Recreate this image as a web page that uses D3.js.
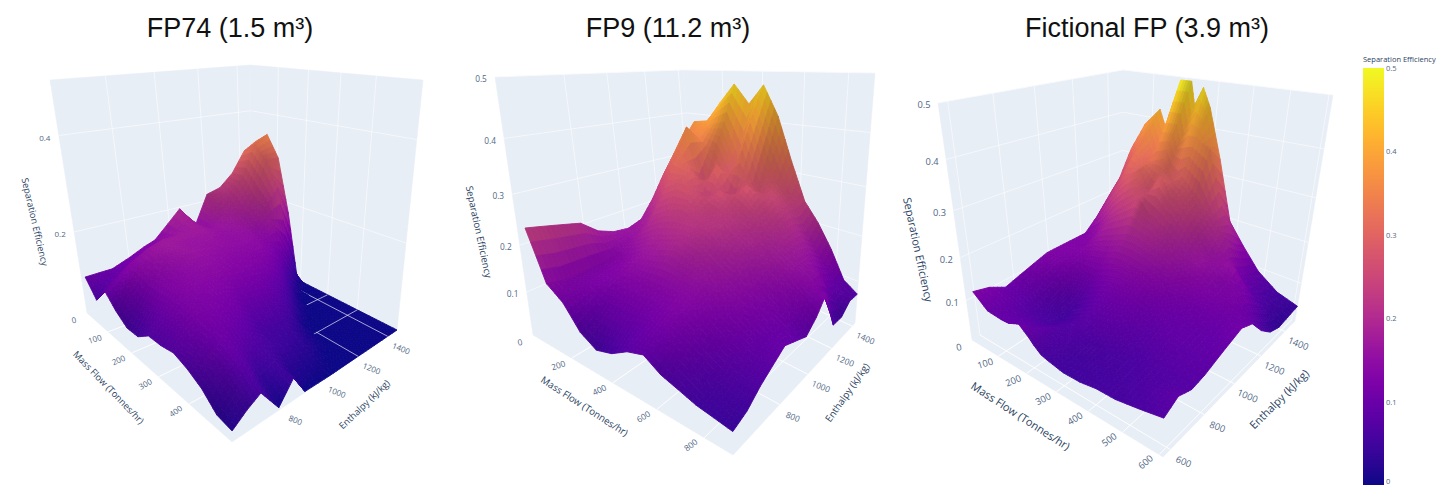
<!DOCTYPE html>
<html>
<head>
<meta charset="utf-8">
<script src="https://cdn.jsdelivr.net/npm/d3@7"></script>
<style>
  html, body { margin: 0; padding: 0; background: #fff; overflow: hidden; }
  text { font-family: "Open Sans", sans-serif; }
  .title { font-family: "Liberation Sans", sans-serif; font-size: 27px; fill: #111; text-anchor: middle; }
  .tick-label { fill: #506784; text-anchor: middle; dominant-baseline: middle; }
  .axis-title { fill: #2a3f5f; text-anchor: middle; dominant-baseline: middle; }
</style>
</head>
<body>
<div id="chart"></div>
<script>
// values, rows = mass flow, columns = enthalpy
const fp74Mass = [20, 62, 104, 146, 188, 230, 270, 312, 354, 396, 438, 480, 520];
const fp74Enthalpy = [600, 654, 708, 785, 850, 905, 1035, 1108, 1180, 1252, 1325, 1398, 1470];
const fp74Efficiency = [
  [.10, .10, .10, .115, .13, .14, .20, .15, .22, .23, .26, .31, .33],
  [.06, .08, .10, .125, .14, .15, .18, .15, .19, .21, .26, .33, .35],
  [.10, .12, .14, .16, .17, .17, .17, .16, .17, .18, .22, .30, .30],
  [.07, .11, .14, .16, .17, .16, .16, .15, .16, .16, .20, .24, .17],
  [.05, .09, .13, .15, .16, .16, .15, .15, .15, .14, .15, .09, 0],
  [.05, .09, .13, .14, .15, .15, .14, .14, .14, .12, .06, 0, 0],
  [.07, .10, .13, .14, .14, .14, .13, .13, .11, .06, 0, 0, 0],
  [.07, .10, .125, .13, .13, .12, .11, .09, .06, .01, 0, 0, 0],
  [.075, .10, .12, .12, .11, .09, .08, .06, .01, 0, 0, 0, 0],
  [.065, .09, .11, .10, .08, .06, .05, .02, 0, 0, 0, 0, 0],
  [.05, .08, .10, .07, .06, .05, .03, .01, 0, 0, 0, 0, 0],
  [.025, .06, .08, .03, .05, .02, .01, 0, 0, 0, 0, 0, 0],
  [.02, .04, .055, .005, .045, .002, 0, 0, 0, 0, 0, 0, 0]
];

const fp9Mass = [40, 113, 186, 259, 332, 405, 478, 551, 624, 697, 770, 843, 915];
const fp9Enthalpy = [530, 605, 680, 755, 830, 905, 980, 1055, 1130, 1205, 1280, 1355, 1430];
const fp9Efficiency = [
  [.24, .23, .22, .21, .18, .165, .16, .17, .21, .26, .29, .34, .38],
  [.14, .13, .13, .13, .135, .15, .17, .20, .26, .32, .34, .36, .385],
  [.115, .12, .125, .13, .14, .17, .21, .26, .32, .38, .35, .38, .43],
  [.07, .09, .12, .14, .16, .19, .23, .28, .30, .25, .33, .39, .47],
  [.05, .09, .12, .14, .17, .20, .24, .27, .24, .31, .27, .31, .43],
  [.06, .09, .12, .14, .18, .21, .23, .24, .27, .24, .34, .41, .47],
  [.08, .10, .12, .14, .17, .20, .22, .23, .25, .28, .26, .33, .41],
  [.09, .11, .13, .14, .16, .18, .20, .21, .23, .25, .26, .27, .32],
  [.07, .10, .115, .13, .145, .16, .175, .19, .20, .22, .23, .23, .24],
  [.06, .08, .095, .115, .13, .14, .15, .165, .18, .19, .19, .17, .20],
  [.05, .06, .08, .10, .11, .12, .13, .145, .16, .16, .15, .13, .15],
  [.045, .055, .07, .085, .095, .105, .11, .125, .14, .145, .10, .09, .09],
  [.04, .05, .07, .085, .10, .09, .08, .10, .13, .05, .05, .07, .07]
];

const fictionalMass = [30, 77, 124, 150, 185, 218, 232, 255, 280, 325, 375, 425, 480, 545, 610];
const fictionalEnthalpy = [560, 638, 715, 792, 870, 948, 1025, 1102, 1180, 1258, 1335, 1412, 1490];
const fictionalEfficiency = [
  [.13, .12, .10, .11, .12, .13, .13, .13, .13, .16, .20, .24, .31],
  [.10, .10, .09, .095, .11, .125, .13, .13, .15, .22, .26, .30, .38],
  [.095, .085, .07, .07, .085, .11, .13, .16, .20, .27, .33, .36, .42],
  [.095, .083, .065, .06, .075, .105, .135, .17, .22, .29, .31, .31, .37],
  [.105, .08, .06, .05, .065, .10, .14, .18, .24, .31, .32, .40, .49],
  [.085, .085, .07, .065, .08, .11, .15, .19, .26, .27, .33, .40, .49],
  [.075, .07, .07, .07, .085, .115, .15, .19, .25, .28, .31, .36, .44],
  [.062, .065, .07, .08, .095, .12, .15, .19, .23, .30, .28, .38, .48],
  [.057, .06, .068, .08, .097, .12, .148, .185, .225, .27, .30, .38, .44],
  [.05, .052, .062, .08, .097, .118, .142, .175, .20, .245, .27, .36, .33],
  [.05, .055, .06, .075, .09, .105, .13, .15, .17, .20, .225, .24, .19],
  [.055, .055, .06, .07, .085, .10, .115, .135, .16, .155, .19, .16, .14],
  [.055, .06, .065, .075, .09, .095, .105, .125, .13, .16, .11, .10, .09],
  [.062, .07, .07, .08, .085, .09, .10, .115, .125, .10, .07, .06, .055],
  [.07, .085, .075, .08, .09, .10, .11, .10, .065, .04, .03, .035, .04]
];

const panelTitles = ["FP74 (1.5 m³)", "FP9 (11.2 m³)", "Fictional FP (3.9 m³)"];
const massTitle = "Mass Flow (Tonnes/hr)";
const enthalpyTitle = "Enthalpy (kJ/kg)";
const efficiencyTitle = "Separation Efficiency";
const colorbarTicks = [0, 0.1, 0.2, 0.3, 0.4, 0.5];

const width = 1450, height = 485;
const color = d3.scaleSequential(d3.interpolatePlasma).domain([0, 0.5]);
const SUB = 4; // each cell is painted as SUB x SUB pieces so the colour runs smoothly

// scene boxes: where the corners of the plot cube land on the page
const scenes = [
  {
    title: panelTitles[0], titleX: 230,
    mass: fp74Mass, enthalpy: fp74Enthalpy, z: fp74Efficiency,
    massRange: [0, 520], enthalpyRange: [600, 1470],
    massTicks: [100, 200, 300, 400], enthalpyTicks: [800, 1000, 1200, 1400], zTicks: [0, 0.2, 0.4],
    floor: [[87, 313], [232, 442], [397, 330], [253, 257]],
    top: [[50, 80], [235, 100], [423, 80], [250, 65]],
    massTitleAt: [108, 388, 46], enthalpyTitleAt: [365, 405, -44], zTitleAt: [34, 222, 77],
    tickSize: 8, titleSize: 9.3
  },
  {
    title: panelTitles[1], titleX: 668,
    mass: fp9Mass, enthalpy: fp9Enthalpy, z: fp9Efficiency,
    massRange: [0, 915], enthalpyRange: [530, 1430],
    massTicks: [200, 400, 600, 800], enthalpyTicks: [800, 1000, 1200, 1400], zTicks: [0, 0.1, 0.2, 0.3, 0.4, 0.5],
    floor: [[533, 335], [733, 455], [855, 323], [697, 250]],
    top: [[495, 77], [730, 95], [875, 73], [683, 70]],
    massTitleAt: [584, 407, 33], enthalpyTitleAt: [848, 393, -55], zTitleAt: [478, 232, 78],
    tickSize: 8.3, titleSize: 9.7
  },
  {
    title: panelTitles[2], titleX: 1147,
    mass: fictionalMass, enthalpy: fictionalEnthalpy, z: fictionalEfficiency,
    massRange: [0, 610], enthalpyRange: [560, 1490],
    massTicks: [100, 200, 300, 400, 500, 600], enthalpyTicks: [600, 800, 1000, 1200, 1400], zTicks: [0, 0.1, 0.2, 0.3, 0.4, 0.5],
    floor: [[972, 340], [1163, 457], [1295, 321], [1123, 247]],
    top: [[938, 103], [1170, 120], [1333, 95], [1123, 70]],
    massTitleAt: [1020, 417, 33], enthalpyTitleAt: [1280, 400, -45], zTitleAt: [917, 250, 78],
    tickSize: 9.3, titleSize: 11
  }
];

// maps the unit square onto a four sided shape
function squareToQuad(q) {
  const [[x0, y0], [x1, y1], [x2, y2], [x3, y3]] = q;
  const sx = x0 - x1 + x2 - x3, sy = y0 - y1 + y2 - y3;
  const dx1 = x1 - x2, dx2 = x3 - x2, dy1 = y1 - y2, dy2 = y3 - y2;
  const det = dx1 * dy2 - dx2 * dy1;
  const g = (sx * dy2 - dx2 * sy) / det, h = (dx1 * sy - sx * dy1) / det;
  const a = x1 - x0 + g * x1, b = x3 - x0 + h * x3;
  const d = y1 - y0 + g * y1, e = y3 - y0 + h * y3;
  return (u, v) => {
    const s = g * u + h * v + 1;
    return [(a * u + b * v + x0) / s, (d * u + e * v + y0) / s];
  };
}

const svg = d3.select("#chart").append("svg")
  .attr("width", width).attr("height", height)
  .attr("viewBox", `0 0 ${width} ${height}`);

function drawScene(scene) {
  const g = svg.append("g");
  const mass = scene.mass, enthalpy = scene.enthalpy, zz = scene.z;
  const u = d3.scaleLinear().domain(scene.massRange).range([0, 1]);
  const v = d3.scaleLinear().domain(scene.enthalpyRange).range([0, 1]);
  const w = d3.scaleLinear().domain([0, 0.5]).range([0, 1]);
  const floorMap = squareToQuad(scene.floor);
  const lift = scene.top.map((p, i) => [p[0] - scene.floor[i][0], p[1] - scene.floor[i][1]]);
  const massEnds = scene.massRange, enthEnds = scene.enthalpyRange;

  const project = (m, e, z) => {
    const s = u(m), r = v(e), a = floorMap(s, r);
    const t = w(z), f = t / (t + 1.25 * (1 - t));
    const lx = (lift[0][0] * (1 - s) + lift[1][0] * s) * (1 - r) + (lift[3][0] * (1 - s) + lift[2][0] * s) * r;
    const ly = (lift[0][1] * (1 - s) + lift[1][1] * s) * (1 - r) + (lift[3][1] * (1 - s) + lift[2][1] * s) * r;
    return [a[0] + lx * f, a[1] + ly * f];
  };
  const line = d3.line();

  // walls and floor
  const zTop = 0.5;
  const faces = [
    [[massEnds[0], enthEnds[0], 0], [massEnds[1], enthEnds[0], 0], [massEnds[1], enthEnds[1], 0], [massEnds[0], enthEnds[1], 0]],
    [[massEnds[0], enthEnds[0], 0], [massEnds[0], enthEnds[1], 0], [massEnds[0], enthEnds[1], zTop], [massEnds[0], enthEnds[0], zTop]],
    [[massEnds[0], enthEnds[1], 0], [massEnds[1], enthEnds[1], 0], [massEnds[1], enthEnds[1], zTop], [massEnds[0], enthEnds[1], zTop]]
  ];
  g.selectAll("path.wall").data(faces).join("path").attr("class", "wall")
    .attr("d", d => line(d.map(p => project(...p))) + "Z")
    .attr("fill", "#e8eef6").attr("stroke", "#e8eef6").attr("stroke-width", 0.5);

  const segment = (a, b, opacity) => g.append("path")
    .attr("d", line([project(...a), project(...b)]))
    .attr("fill", "none").attr("stroke", "#fff")
    .attr("stroke-width", 0.9).attr("opacity", opacity);

  const floorGrid = opacity => {
    scene.massTicks.filter(m => m <= massEnds[1]).forEach(m =>
      segment([m, enthEnds[0], 0], [m, enthEnds[1], 0], opacity));
    scene.enthalpyTicks.filter(e => e >= enthEnds[0]).forEach(e =>
      segment([massEnds[0], e, 0], [massEnds[1], e, 0], opacity));
  };
  floorGrid(0.6);
  scene.zTicks.slice(1).forEach(z => {
    segment([massEnds[0], enthEnds[0], z], [massEnds[0], enthEnds[1], z], 0.6);
    segment([massEnds[0], enthEnds[1], z], [massEnds[1], enthEnds[1], z], 0.6);
  });
  scene.massTicks.filter(m => m <= massEnds[1]).forEach(m =>
    segment([m, enthEnds[1], 0], [m, enthEnds[1], zTop], 0.6));
  scene.enthalpyTicks.filter(e => e >= enthEnds[0]).forEach(e =>
    segment([massEnds[0], e, 0], [massEnds[0], e, zTop], 0.6));

  // steep faces turned to the viewer go darker, gentle ones keep the full colour
  const n = mass.length, k = enthalpy.length;
  const vertexShade = d3.range(n).map(i => d3.range(k).map(j => {
    const i0 = Math.max(i - 1, 0), i1 = Math.min(i + 1, n - 1);
    const j0 = Math.max(j - 1, 0), j1 = Math.min(j + 1, k - 1);
    const dwdu = (w(zz[i1][j]) - w(zz[i0][j])) / (u(mass[i1]) - u(mass[i0]));
    const dwdv = (w(zz[i][j1]) - w(zz[i][j0])) / (v(enthalpy[j1]) - v(enthalpy[j0]));
    const facing = Math.max((-dwdu + dwdv) / (Math.SQRT2 * Math.hypot(dwdu, dwdv, 1)), 0);
    return 1 - 0.28 * facing * facing;
  }));

  // surface, far corner first so nearer cells paint over it
  const flat = [], raised = [];
  for (let i = 0; i < n - 1; i++) {
    for (let j = k - 2; j >= 0; j--) {
      const corners = [zz[i][j], zz[i + 1][j], zz[i + 1][j + 1], zz[i][j + 1]];
      (d3.max(corners) === 0 ? flat : raised).push([i, j]);
    }
  }

  const surface = (cells) => {
    cells.forEach(([i, j]) => {
      const m = d3.scaleLinear().domain([0, SUB]).range([mass[i], mass[i + 1]]);
      const e = d3.scaleLinear().domain([0, SUB]).range([enthalpy[j], enthalpy[j + 1]]);
      const bilinear = (grid, a, b) => {
        const s = a / SUB, t = b / SUB;
        return (grid[i][j] * (1 - s) + grid[i + 1][j] * s) * (1 - t) + (grid[i][j + 1] * (1 - s) + grid[i + 1][j + 1] * s) * t;
      };
      for (let a = 0; a < SUB; a++) {
        for (let b = SUB - 1; b >= 0; b--) {
          const h00 = bilinear(zz, a, b), h10 = bilinear(zz, a + 1, b), h11 = bilinear(zz, a + 1, b + 1), h01 = bilinear(zz, a, b + 1);
          const pts = [project(m(a), e(b), h00), project(m(a + 1), e(b), h10), project(m(a + 1), e(b + 1), h11), project(m(a), e(b + 1), h01)];
          const shade = bilinear(vertexShade, a + 0.5, b + 0.5);
          const c = d3.rgb(color((h00 + h10 + h11 + h01) / 4));
          const fill = d3.rgb(c.r * shade, c.g * shade, c.b * shade).formatHex();
          g.append("path").attr("d", line(pts) + "Z").attr("fill", fill).attr("stroke", fill).attr("stroke-width", 0.9);
        }
      }
    });
  };
  surface(flat);
  floorGrid(0.7); // the flat part lies on the floor so its grid shows through
  surface(raised);

  // tick labels
  const massRotate = d3.scaleLinear().domain(massEnds).range([-12, -42]);
  const label = (x, y, rot, text, cls, size) => g.append("text").attr("class", cls)
    .attr("font-size", size)
    .attr("transform", `translate(${x},${y}) rotate(${rot})`).text(text);

  [0].concat(scene.massTicks).forEach(m => {
    const p = project(m, enthEnds[0], 0);
    label(p[0] - 13, p[1] + 8, massRotate(m), m, "tick-label", scene.tickSize);
  });
  scene.enthalpyTicks.forEach(e => {
    const p = project(massEnds[1], e, 0);
    label(p[0] + 13, p[1] + 13, 22, e, "tick-label", scene.tickSize);
  });
  scene.zTicks.slice(1).forEach(z => {
    const p = project(massEnds[0], enthEnds[0], z);
    label(p[0] - 14, p[1] + 3, 0, z, "tick-label", scene.tickSize);
  });

  label(scene.massTitleAt[0], scene.massTitleAt[1], scene.massTitleAt[2], massTitle, "axis-title", scene.titleSize);
  label(scene.enthalpyTitleAt[0], scene.enthalpyTitleAt[1], scene.enthalpyTitleAt[2], enthalpyTitle, "axis-title", scene.titleSize);
  label(scene.zTitleAt[0], scene.zTitleAt[1], scene.zTitleAt[2], efficiencyTitle, "axis-title", scene.titleSize);

  g.append("text").attr("class", "title").attr("x", scene.titleX).attr("y", 37).text(scene.title);
}

scenes.forEach(drawScene);

// colour bar
const barY = d3.scaleLinear().domain([0, 0.5]).range([485, 68]);
const defs = svg.append("defs");
const gradient = defs.append("linearGradient").attr("id", "bar-gradient")
  .attr("x1", 0).attr("y1", 1).attr("x2", 0).attr("y2", 0);
d3.range(0, 1.001, 0.05).forEach(t =>
  gradient.append("stop").attr("offset", t).attr("stop-color", d3.interpolatePlasma(t)));
svg.append("rect").attr("x", 1363).attr("y", barY(0.5)).attr("width", 21)
  .attr("height", barY(0) - barY(0.5)).attr("fill", "url(#bar-gradient)");
const barAxis = svg.append("g").attr("transform", "translate(1384,0)")
  .call(d3.axisRight(barY).tickValues(colorbarTicks).tickSize(0).tickPadding(2).tickFormat(d => d));
barAxis.select(".domain").remove();
barAxis.selectAll("text").attr("font-size", 7.5).attr("fill", "#506784").attr("font-family", "Open Sans, sans-serif")
  .attr("dy", d => d === 0 ? "-0.2em" : "0.32em");
svg.append("text").attr("x", 1363).attr("y", 62).attr("font-size", 7.5).attr("fill", "#2a3f5f").text(efficiencyTitle);
</script>
</body>
</html>
